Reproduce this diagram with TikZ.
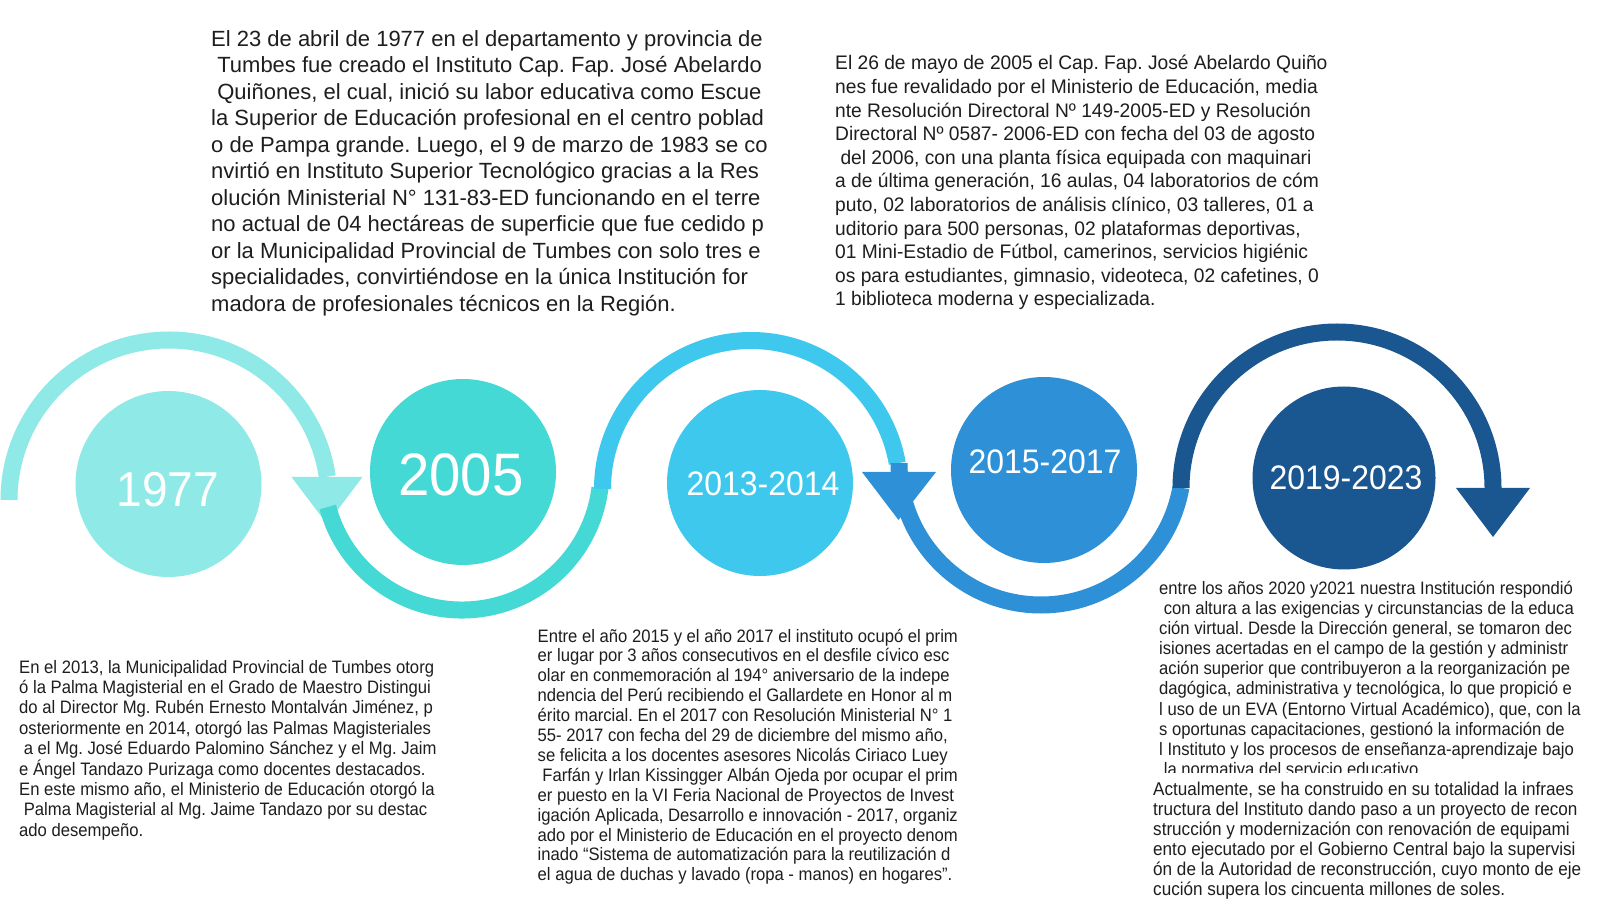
\documentclass[tikz,border=0pt]{standalone}
\usepackage{fontspec}
\setmainfont{Liberation Sans}
\newfontfamily\fA{Liberation Sans}
\newfontfamily\fB[FakeStretch=0.98]{Liberation Sans}
\newfontfamily\fC[FakeStretch=0.925]{Liberation Sans}
\newfontfamily\fD[FakeStretch=0.925]{Liberation Sans}
\newfontfamily\fF[FakeStretch=0.925]{Liberation Sans}
\newfontfamily\fY[FakeStretch=0.94]{Liberation Sans}
\definecolor{cA}{HTML}{8EE9E7}
\definecolor{cB}{HTML}{45D9D5}
\definecolor{cC}{HTML}{3EC8EE}
\definecolor{cD}{HTML}{2E90D6}
\definecolor{cE}{HTML}{1A5790}
\definecolor{ink}{HTML}{1E1E1E}
\newcommand{\blk}[1]{\parbox[t]{700pt}{\raggedright\frenchspacing #1}}
\tikzset{
  band/.style={line width=17pt},
  yearball/.style={circle, minimum size=186pt, inner sep=0pt},
  yearlbl/.style={text=white, inner sep=0pt},
  para/.style={anchor=base west, inner sep=0pt, text=ink},
}
\begin{document}
\begin{tikzpicture}[x=1pt,y=1pt]
\useasboundingbox (0,0) rectangle (1600,900);
\fill[white] (0,0) rectangle (1600,900);

% bands
\coordinate (k1) at (169,400);
\coordinate (k2) at (462,429);
\coordinate (k3) at (751,411);
\coordinate (k4) at (1041,437);
\coordinate (k5) at (1337,412);
\draw[band, cA] (k1) ++(180:160pt) arc[start angle=180, end angle=8.4, radius=160pt];
\fill[cA] (291.5,423) -- (362.5,423) -- (327,376) -- cycle;
\draw[band, cB] (k2) ++(195:139pt) arc[start angle=195, end angle=353, radius=139pt];
\draw[band, cC] (k3) ++(180:148.5pt) arc[start angle=180, end angle=10, radius=148.5pt];
\fill[cD] (862,428) -- (936,428) -- (898.5,380) -- cycle;
\draw[band, cD] (k4) ++(180:142pt) arc[start angle=180, end angle=350, radius=142pt];
\draw[band, cE] (k5) ++(180:156pt) arc[start angle=180, end angle=0, radius=156pt];
\fill[cE] (1456,412) -- (1530,412) -- (1493,363) -- cycle;

% year circles
\node[yearball, fill=cA] (y1) at (168.5,416) {};
\node[yearball, fill=cB] (y2) at (463,428) {};
\node[yearball, fill=cC] (y3) at (760,417) {};
\node[yearball, fill=cD] (y4) at (1044,430) {};
\node[yearball, fill=cE, minimum size=183pt] (y5) at (1344,422) {};
\node[yearlbl, font=\fY\fontsize{49}{49}\selectfont] (t1) at (168,410) {1977};
\node[yearlbl, font=\fY\fontsize{60}{60}\selectfont] (t2) at (461,425) {2005};
\node[yearlbl, font=\fY\fontsize{34}{34}\selectfont] (t3) at (763,416.5) {2013-2014};
\node[yearlbl, font=\fY\fontsize{34}{34}\selectfont] (t4) at (1045,438) {2015-2017};
\node[yearlbl, font=\fY\fontsize{34}{34}\selectfont] (t5) at (1346,422) {2019-2023};

% text blocks
\node[para, font=\fA\fontsize{22}{26.5}\selectfont] (pA) at (211,853.5) {\blk{%
El 23 de abril de 1977 en el departamento y provincia de\\
~Tumbes fue creado el Instituto Cap. Fap. José Abelardo\\
~Quiñones, el cual, inició su labor educativa como Escue\\
la Superior de Educación profesional en el centro poblad\\
o de Pampa grande. Luego, el 9 de marzo de 1983 se co\\
nvirtió en Instituto Superior Tecnológico gracias a la Res\\
olución Ministerial N° 131-83-ED funcionando en el terre\\
no actual de 04 hectáreas de superficie que fue cedido p\\
or la Municipalidad Provincial de Tumbes con solo tres e\\
specialidades, convirtiéndose en la única Institución for\\
madora de profesionales técnicos en la Región.}};

\node[para, font=\fB\fontsize{19.6}{23.6}\selectfont] (pB) at (835,830) {\blk{%
El 26 de mayo de 2005 el Cap. Fap. José Abelardo Quiño\\
nes fue revalidado por el Ministerio de Educación, media\\
nte Resolución Directoral Nº 149-2005-ED y Resolución\\
Directoral Nº 0587- 2006-ED con fecha del 03 de agosto\\
~del 2006, con una planta física equipada con maquinari\\
a de última generación, 16 aulas, 04 laboratorios de cóm\\
puto, 02 laboratorios de análisis clínico, 03 talleres, 01 a\\
uditorio para 500 personas, 02 plataformas deportivas,\\
01 Mini-Estadio de Fútbol, camerinos, servicios higiénic\\
os para estudiantes, gimnasio, videoteca, 02 cafetines, 0\\
1 biblioteca moderna y especializada.}};

\node[para, font=\fC\fontsize{18}{20.4}\selectfont] (pC) at (19,227) {\blk{%
En el 2013, la Municipalidad Provincial de Tumbes otorg\\
ó la Palma Magisterial en el Grado de Maestro Distingui\\
do al Director Mg. Rubén Ernesto Montalván Jiménez, p\\
osteriormente en 2014, otorgó las Palmas Magisteriales\\
~a el Mg. José Eduardo Palomino Sánchez y el Mg. Jaim\\
e Ángel Tandazo Purizaga como docentes destacados.\\
En este mismo año, el Ministerio de Educación otorgó la\\
~Palma Magisterial al Mg. Jaime Tandazo por su destac\\
ado desempeño.}};

\node[para, font=\fD\fontsize{18}{19.9}\selectfont] (pD) at (537.5,258) {\blk{%
Entre el año 2015 y el año 2017 el instituto ocupó el prim\\
er lugar por 3 años consecutivos en el desfile cívico esc\\
olar en conmemoración al 194° aniversario de la indepe\\
ndencia del Perú recibiendo el Gallardete en Honor al m\\
érito marcial. En el 2017 con Resolución Ministerial N° 1\\
55- 2017 con fecha del 29 de diciembre del mismo año,\\
se felicita a los docentes asesores Nicolás Ciriaco Luey\\
~Farfán y Irlan Kissingger Albán Ojeda por ocupar el prim\\
er puesto en la VI Feria Nacional de Proyectos de Invest\\
igación Aplicada, Desarrollo e innovación - 2017, organiz\\
ado por el Ministerio de Educación en el proyecto denom\\
inado “Sistema de automatización para la reutilización d\\
el agua de duchas y lavado (ropa - manos) en hogares”.}};

\begin{scope}
\clip (1100,128) rectangle (1600,340);
\node[para, font=\fC\fontsize{18}{20.1}\selectfont] (pE) at (1159,305.5) {\blk{%
entre los años 2020 y2021 nuestra Institución respondió\\
~con altura a las exigencias y circunstancias de la educa\\
ción virtual. Desde la Dirección general, se tomaron dec\\
isiones acertadas en el campo de la gestión y administr\\
ación superior que contribuyeron a la reorganización pe\\
dagógica, administrativa y tecnológica, lo que propició e\\
l uso de un EVA (Entorno Virtual Académico), que, con la\\
s oportunas capacitaciones, gestionó la información de\\
l Instituto y los procesos de enseñanza-aprendizaje bajo\\
~la normativa del servicio educativo.}};
\end{scope}

\node[para, font=\fF\fontsize{18.5}{20}\selectfont] (pF) at (1153,105) {\blk{%
Actualmente, se ha construido en su totalidad la infraes\\
tructura del Instituto dando paso a un proyecto de recon\\
strucción y modernización con renovación de equipami\\
ento ejecutado por el Gobierno Central bajo la supervisi\\
ón de la Autoridad de reconstrucción, cuyo monto de eje\\
cución supera los cincuenta millones de soles.}};
\end{tikzpicture}
\end{document}
